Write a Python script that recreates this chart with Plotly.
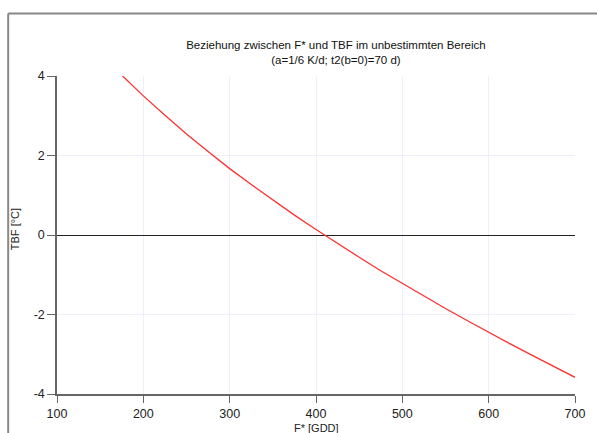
import plotly.graph_objects as go

# Estimated values
f_star = [176, 200, 225, 250, 275, 300, 325, 350, 375, 400, 425, 450, 475,
          500, 525, 550, 575, 600, 625, 650, 675, 700]
tbf = [4.00, 3.50, 3.01, 2.54, 2.10, 1.67, 1.27, 0.88, 0.50, 0.14, -0.22,
       -0.56, -0.90, -1.22, -1.54, -1.85, -2.15, -2.45, -2.74, -3.02, -3.30, -3.58]

x_ticks = [100, 200, 300, 400, 500, 600, 700]
y_ticks = [-4, -2, 0, 2, 4]
y_tick_labels = ["-4", "-2", "0", "2", "4"]

title_text = "Beziehung zwischen F* und TBF im unbestimmten Bereich<br>(a=1/6 K/d; t2(b=0)=70 d)"
x_title = "F* [GDD]"
y_title = "TBF [°C]"

FONT = "Liberation Sans, Arial, sans-serif"

fig = go.Figure()
fig.add_trace(go.Scatter(x=f_star, y=tbf, mode="lines",
                         line=dict(color="#ff3030", width=1.3),
                         showlegend=False, hoverinfo="skip"))

axis_common = dict(
    showline=True, linecolor="#666666", linewidth=1.5,
    ticks="outside", tickcolor="#666666", tickwidth=1.2,
    showgrid=True, gridcolor="#eeeefc", gridwidth=1,
    tickfont=dict(family=FONT, size=12.5, color="#222222"),
    mirror=False,
)

fig.update_xaxes(range=[100, 700], tickvals=x_ticks, zeroline=False, ticklen=7, **axis_common)
fig.update_yaxes(range=[-4, 4], tickvals=y_ticks, ticktext=y_tick_labels, zeroline=True,
                 ticklen=8, zerolinecolor="#222222", zerolinewidth=1.2, **axis_common)

W, H = 597, 433
L, R, T, B = 57, 20, 76, 37
pw, ph = W - L - R, H - T - B

def px_x(px):
    return (px - L) / pw

def px_y(py):
    return (H - B - py) / ph

fig.update_layout(
    width=W, height=H,
    margin=dict(l=L, r=R, t=T, b=B, pad=0),
    paper_bgcolor="white", plot_bgcolor="white",
    font=dict(family=FONT, size=12, color="#222222"),
    title=dict(text=title_text, x=px_x(337), xref="paper", xanchor="center",
               y=1 - 49 / H, yref="container", yanchor="middle",
               font=dict(family=FONT, size=11.5, color="#111111")),
    annotations=[
        dict(text=x_title, xref="paper", yref="paper", x=0.5, y=px_y(430),
             xanchor="center", yanchor="middle", showarrow=False,
             font=dict(family=FONT, size=11, color="#222222")),
        dict(text=y_title, xref="paper", yref="paper", x=px_x(15), y=px_y(230),
             xanchor="center", yanchor="middle", showarrow=False, textangle=-90,
             font=dict(family=FONT, size=11, color="#222222")),
    ],
    shapes=[
        dict(type="line", xref="paper", yref="paper",
             x0=px_x(8), x1=px_x(8), y0=px_y(13), y1=px_y(440),
             line=dict(color="#888888", width=2)),
        dict(type="line", xref="paper", yref="paper",
             x0=px_x(8), x1=px_x(600), y0=px_y(13), y1=px_y(13),
             line=dict(color="#888888", width=2)),
    ],
)

fig.write_html("out.html")
